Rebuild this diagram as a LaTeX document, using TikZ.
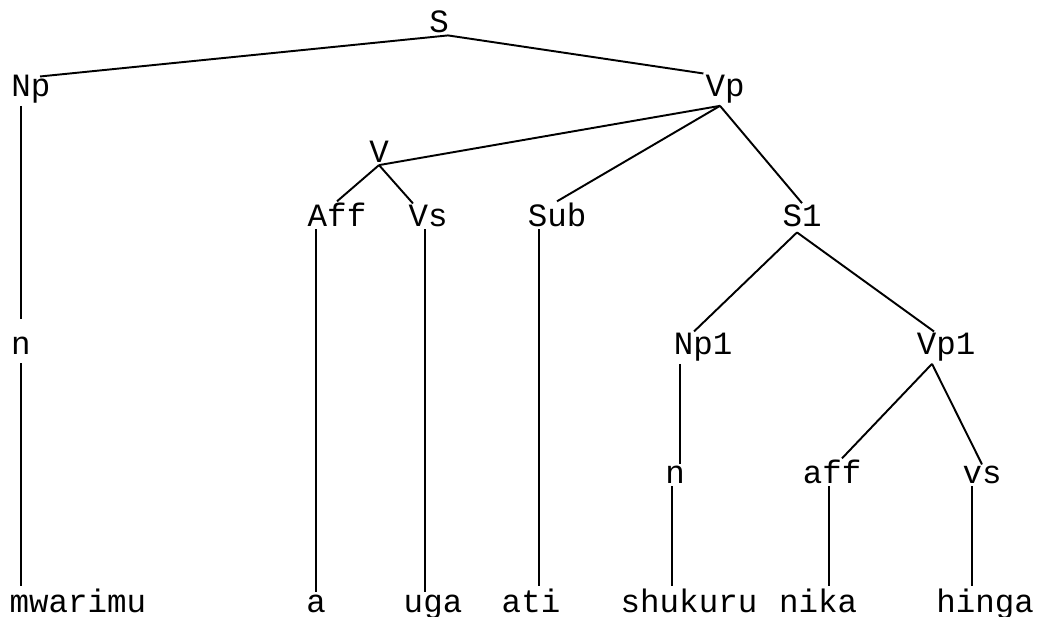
\documentclass[tikz,border=0pt]{standalone}
\usepackage{fontspec}
\usepackage{tikz}
\usetikzlibrary{calc}
\newfontfamily\treefont{Liberation Mono}

\tikzset{
  lab/.style={font=\treefont\fontsize{18.5}{20}\selectfont, inner sep=1pt, anchor=base},
  branch/.style={line width=1.1pt}
}

\begin{document}
\begin{tikzpicture}[x=0.02cm, y=-0.02cm]
\useasboundingbox (0,0) rectangle (1037,617);

% category labels
\node[lab] (S) at (439,33) {S};
\node[lab] (Np) at (31,97) {Np};
\node[lab] (Vp) at (725,97) {Vp};
\node[lab] (V) at (379,163) {V};
\node[lab] (Aff) at (337,227) {Aff};
\node[lab] (Vs) at (428,227) {Vs};
\node[lab] (Sub) at (557,227) {Sub};
\node[lab] (S1) at (802,227) {S1};
\node[lab] (n) at (21,355) {n};
\node[lab] (Np1) at (703,355) {Np1};
\node[lab] (Vp1) at (946,355) {Vp1};
\node[lab] (n1) at (675,484) {n};
\node[lab] (aff) at (832,484) {aff};
\node[lab] (vs) at (982,484) {vs};

% words
\node[lab] (mwarimu) at (78,612) {mwarimu};
\node[lab] (a) at (316,612) {a};
\node[lab] (uga) at (433,612) {uga};
\node[lab] (ati) at (531,612) {ati};
\node[lab] (shukuru) at (689,612) {shukuru};
\node[lab] (nika) at (818,612) {nika};
\node[lab] (hinga) at (985,612) {hinga};

% branches
\draw[branch] ($(S.south)+(9,0)$) -- ($(Np.north)+(9,3)$);
\draw[branch] ($(S.south)+(9,0)$) -- (Vp.north west);
\draw[branch] ($(Vp.south)+(-5,0)$) -- (V.south);
\draw[branch] ($(Vp.south)+(-5,0)$) -- (Sub.north);
\draw[branch] ($(Vp.south)+(-5,0)$) -- (S1.north);
\draw[branch] (V.south) -- (Aff.north);
\draw[branch] (V.south) -- ($(Vs.north)+(-15,0)$);
\draw[branch] ($(S1.south)+(-5,3)$) -- ($(Np1.north)+(-9,0)$);
\draw[branch] ($(S1.south)+(-5,3)$) -- ($(Vp1.north)+(-12,0)$);
\draw[branch] ($(Vp1.south)+(-14,0)$) -- ($(aff.north)+(10,0)$);
\draw[branch] ($(Vp1.south)+(-14,0)$) -- (vs.north);

% stems
\draw[branch] (Np.south -| n.north) -- ($(n.north)+(0,-16)$);
\draw[branch] ($(n.south)+(0,6)$) -- (n.south |- mwarimu.north);
\draw[branch] (a.north |- Aff.south) -- (a.north);
\draw[branch] ($(Vs.south)+(-3,0)$) -- ($(uga.north)+(-8,0)$);
\draw[branch] ($(Sub.south)+(-18,0)$) -- ($(ati.north)+(8,0)$);
\draw[branch] ($(Np1.south)+(-23,0)$) -- ($(n1.north)+(5,0)$);
\draw[branch] ($(n1.south)+(-3,0)$) -- ($(shukuru.north)+(-17,0)$);
\draw[branch] ($(aff.south)+(-3,0)$) -- ($(nika.north)+(11,0)$);
\draw[branch] ($(vs.south)+(-10,0)$) -- ($(hinga.north)+(-13,0)$);

\end{tikzpicture}
\end{document}
